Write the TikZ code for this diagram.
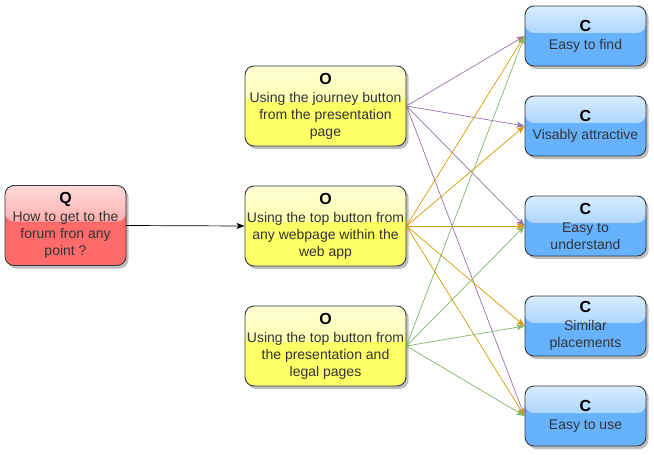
\documentclass[tikz,border=0pt]{standalone}
\usepackage{fontspec}
\setmainfont{Liberation Sans}
\usetikzlibrary{arrows.meta,shadows,calc}

\definecolor{qbase}{HTML}{FF6B6B}
\definecolor{obase}{HTML}{FFFF66}
\definecolor{cbase}{HTML}{66B2FF}
\definecolor{linkO}{HTML}{9673A6}
\definecolor{linkT}{HTML}{D79B00}
\definecolor{linkL}{HTML}{82B366}
\definecolor{boxline}{HTML}{36393D}
\definecolor{bodytext}{HTML}{333333}

\newcommand{\boxhead}[1]{{\fontsize{16}{17}\selectfont\bfseries\color{black}#1}\\[1pt]}

\tikzset{
  glassbox/.style={
    rounded corners=9pt, draw=boxline, line width=0.9pt, fill=#1,
    align=center, inner sep=1pt, text=bodytext,
    font=\fontsize{14}{17}\selectfont,
    drop shadow={shadow xshift=2.5pt, shadow yshift=-3pt, opacity=0.25, fill=black},
    path picture={
      \shade[top color=white!75!#1, bottom color=white!12!#1]
        (path picture bounding box.north west) rectangle
        ($(path picture bounding box.north east)!0.45!(path picture bounding box.south east)$);
    }
  },
  qbox/.style={glassbox=qbase, minimum width=121pt, minimum height=80pt},
  obox/.style={glassbox=obase, minimum width=161pt, minimum height=80pt},
  cbox/.style={glassbox=cbase, minimum width=121pt, minimum height=60pt},
  link/.style={draw=#1, line width=0.7pt, -{Stealth[length=8pt,width=6pt,inset=2pt]}},
}

\begin{document}
\begin{tikzpicture}[x=1pt,y=1pt]
  \useasboundingbox (0,0) rectangle (654,-455);

  % question
  \node[qbox] (q) at (65.5,-225.5)
    {\boxhead{Q}How to get to the\\forum fron any\\point ?};

  % options
  \node[obox] (o1) at (325.5,-106)
    {\boxhead{O}Using the journey button\\from the presentation\\page};
  \node[obox] (o2) at (325.5,-226)
    {\boxhead{O}Using the top button from\\any webpage within the\\web app};
  \node[obox] (o3) at (325.5,-346)
    {\boxhead{O}Using the top button from\\the presentation and\\legal pages};

  % criteria
  \node[cbox] (c1) at (585.5,-36)  {\boxhead{C}Easy to find};
  \node[cbox] (c2) at (585.5,-126) {\boxhead{C}Visably attractive};
  \node[cbox] (c3) at (585.5,-226) {\boxhead{C}Easy to\\understand};
  \node[cbox] (c4) at (585.5,-326) {\boxhead{C}Similar\\placements};
  \node[cbox] (c5) at (585.5,-416) {\boxhead{C}Easy to use};

  % question to option
  \draw[link=black] (q.east) -- (o2.west);

  % option links
  \foreach \c in {c1,c2,c3,c5} \draw[link=linkO] (o1.east) -- (\c.west);
  \foreach \c in {c1,c2,c3,c4,c5} \draw[link=linkT] (o2.east) -- (\c.west);
  \foreach \c in {c1,c3,c4,c5} \draw[link=linkL] (o3.east) -- (\c.west);
\end{tikzpicture}
\end{document}
